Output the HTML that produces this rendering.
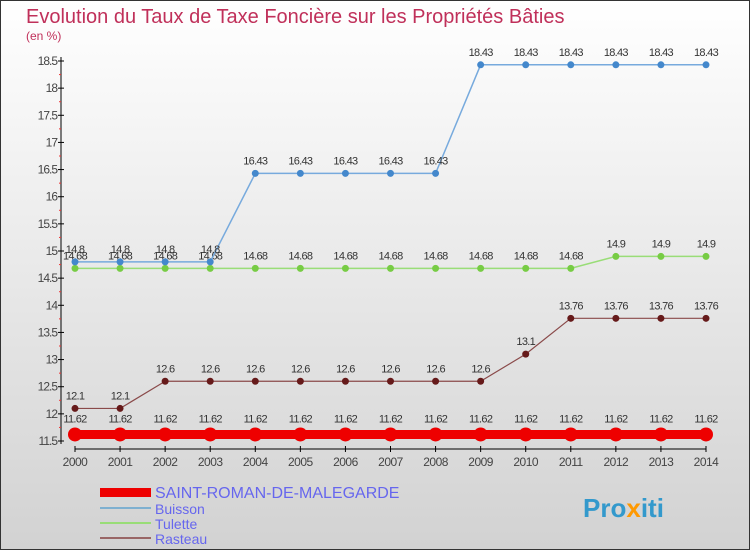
<!DOCTYPE html>
<html><head><meta charset="utf-8"><style>
body{margin:0;width:750px;height:550px;overflow:hidden}
svg{display:block;font-family:"Liberation Sans",sans-serif}
</style></head><body>
<svg id="c" width="750" height="550" xmlns="http://www.w3.org/2000/svg">
<defs><linearGradient id="bg" x1="0" y1="0" x2="0" y2="1"><stop offset="0" stop-color="#ffffff"/><stop offset="1" stop-color="#d2d2d2"/></linearGradient></defs>
<rect x="0.5" y="0.5" width="749" height="549" fill="url(#bg)" stroke="#333"/>
<text x="26" y="23" font-size="20" fill="#c0305a">Evolution du Taux de Taxe Foncière sur les Propriétés Bâties</text>
<text x="26" y="40" font-size="12" fill="#c0305a">(en %)</text>
<g id="axes"></g><g id="series"></g>
<g>
<rect x="100" y="488" width="51" height="9" fill="#ee0000"/>
<text x="155" y="498" font-size="16" fill="#6666ee">SAINT-ROMAN-DE-MALEGARDE</text>
<rect x="100" y="507" width="51" height="2" fill="#7fb0d0"/>
<text x="155" y="514" font-size="14" fill="#6666ee">Buisson</text>
<rect x="100" y="522" width="51" height="2" fill="#99dd77"/>
<text x="155" y="529" font-size="14" fill="#6666ee">Tulette</text>
<rect x="100" y="537" width="51" height="2" fill="#996666"/>
<text x="155" y="544" font-size="14" fill="#6666ee">Rasteau</text>
</g>
<text x="583" y="517" font-size="26" font-weight="bold" fill="#3399cc">Pro<tspan fill="#ff9900">x</tspan>iti</text>
</svg>
<script>
const years=[2000,2001,2002,2003,2004,2005,2006,2007,2008,2009,2010,2011,2012,2014-1,2014];
const yTicks=[11.5,12,12.5,13,13.5,14,14.5,15,15.5,16,16.5,17,17.5,18,18.5];
const saintRoman=[11.62,11.62,11.62,11.62,11.62,11.62,11.62,11.62,11.62,11.62,11.62,11.62,11.62,11.62,11.62];
const buisson=[14.8,14.8,14.8,14.8,16.43,16.43,16.43,16.43,16.43,18.43,18.43,18.43,18.43,18.43,18.43];
const tulette=[14.68,14.68,14.68,14.68,14.68,14.68,14.68,14.68,14.68,14.68,14.68,14.68,14.9,14.9,14.9];
const rasteau=[12.1,12.1,12.6,12.6,12.6,12.6,12.6,12.6,12.6,12.6,13.1,13.76,13.76,13.76,13.76];
const NS="http://www.w3.org/2000/svg";
const x=i=>75+i*(706-75)/14;
const y=v=>441-(v-11.5)*(380/7);
function mk(t,a,p){const e=document.createElementNS(NS,t);for(const k in a)e.setAttribute(k,a[k]);p.appendChild(e);return e;}
const ax=document.getElementById('axes');
let e=mk('line',{x1:61,y1:57,x2:61,y2:444,stroke:'#000'},ax);


e=mk('line',{x1:75,y1:449,x2:706,y2:449,stroke:'#000'},ax);


yTicks.forEach((t,i)=>{
  mk('line',{x1:58,y1:y(t),x2:64,y2:y(t),stroke:'#000'},ax);
  if(i<yTicks.length-1)mk('line',{x1:59,y1:y(t+0.25),x2:61,y2:y(t+0.25),stroke:'#e33'},ax);
  const tx=mk('text',{x:57,y:y(t)+4,'font-size':12,'text-anchor':'end',fill:'#444','letter-spacing':'-1'},ax);
  tx.textContent=String(t);
  
  
});
years.forEach((yr,i)=>{
  mk('line',{x1:x(i),y1:446,x2:x(i),y2:452,stroke:'#000'},ax);
  const tx=mk('text',{x:x(i),y:466,'font-size':12,'text-anchor':'middle',fill:'#444','letter-spacing':'-0.5'},ax);
  tx.textContent=String(yr);
  
  
});
const sg=document.getElementById('series');
function series(vals,name,col,lw,r,dot,off){
  const g=mk('g',{},sg);
  
  
  const pl=mk('polyline',{points:vals.map((v,i)=>x(i)+','+y(v)).join(' '),fill:'none',stroke:col,'stroke-width':lw},g);
  vals.forEach((v,i)=>{
    const c=mk('circle',{cx:x(i),cy:y(v),r:r,fill:dot},g);
    
    
    const t=mk('text',{x:x(i),y:y(v)-off,'font-size':11,'text-anchor':'middle',fill:'#333','letter-spacing':'-0.7'},g);
    t.textContent=String(v);
    
    
  });
}
series(rasteau,'rasteau','#8a4a4a',1.2,3.5,'#661a1a',9);
series(tulette,'tulette','#99dd77',1.5,3.5,'#77cc44',9);
series(buisson,'buisson','#77aadd',1.5,3.5,'#4488cc',9);
series(saintRoman,'saint-roman','#ee0000',9,7,'#ee0000',12);
</script>
</body></html>
